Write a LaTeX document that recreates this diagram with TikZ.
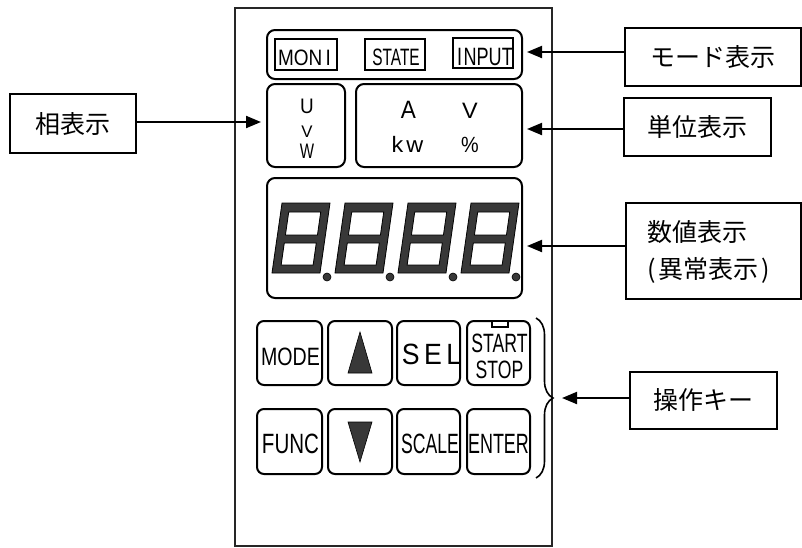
\documentclass[tikz,border=0pt]{standalone}
\usepackage{fontspec}
\setmainfont{Liberation Sans}
\newfontfamily\jp{Noto Sans CJK JP}
\usetikzlibrary{arrows.meta,decorations.pathreplacing}
\newcommand{\sxt}[3]{\scalebox{#1}[1]{\fontsize{#2}{#2}\selectfont #3}}
\newcommand{\capbox}[2]{\raisebox{0pt}[#1pt][0pt]{#2}}
\newcommand{\ctrline}[1]{\hbox to 64pt{\hss#1\hss}}
\begin{document}
\begin{tikzpicture}[x=1pt,y=-1pt,
  panel/.style={draw=black!85, line width=1.6pt},
  dispbox/.style={draw, line width=2pt, rounded corners=8pt, inner sep=0},
  keybox/.style={draw, line width=2pt, rounded corners=7pt, inner sep=0},
  tagbox/.style={draw, line width=1.4pt, inner sep=0},
  lbl/.style={draw, line width=1.6pt, inner sep=0, font=\jp\fontsize{25}{37}\selectfont},
  txt/.style={inner sep=0, outer sep=0, anchor=base},
  arr/.style={line width=2pt, -{Triangle[length=15pt,width=12pt]}},
  seg/.style={fill=black!78, draw=black, line width=0.8pt, even odd rule},
  darkfill/.style={fill=black!78, draw=black, line width=0.6pt},
]
\useasboundingbox (0,0) rectangle (802,547);
\fill[white] (0,0) rectangle (802,547);
% panel
\draw[panel] (235,8) rectangle (552,546);
% mode display
\node[dispbox, minimum width=255pt, minimum height=49pt] (modebox) at (394.5,54.5) {};
\node[tagbox, minimum width=62pt, minimum height=31pt] (moni) at (306,54.5) {};
\node[tagbox, minimum width=60pt, minimum height=31pt] (state) at (395,54.5) {};
\node[tagbox, minimum width=60pt, minimum height=30pt] (input) at (483,53) {};
\node[txt] (monit) at (304.5,65) {\sxt{0.85}{22.3}{MON\kern4pt I}};
\node[txt] (statet) at (396,65) {\sxt{0.65}{23.7}{STATE}};
\node[txt] (inputt) at (485,65) {\sxt{0.72}{25.1}{I\kern2pt NPUT}};
% phase and unit displays
\node[dispbox, minimum width=78pt, minimum height=83pt] (uvwbox) at (306,125.5) {};
\node[dispbox, minimum width=166pt, minimum height=83pt] (unitbox) at (439,125.5) {};
\node[txt] (uvwt) at (307,158) {\vbox{\offinterlineskip
  \ctrline{\capbox{15}{\sxt{0.9}{21}{U}}}\kern12pt
  \ctrline{\capbox{12}{\sxt{1.0}{16.8}{V}}}\kern6pt
  \ctrline{\capbox{15}{\sxt{0.72}{21}{W}}}}};
\node[txt] (at) at (408.5,118) {\sxt{0.9}{25.1}{A}};
\node[txt] (vvt) at (470,118) {\sxt{1.05}{22.3}{V}};
\node[txt] (kwt) at (407.5,152) {\sxt{1.05}{22.3}{k\kern3pt w}};
\node[txt] (pct) at (470,152) {\sxt{0.9}{22}{\%}};
% numeric display
\node[dispbox, minimum width=255pt, minimum height=120pt] (digbox) at (394.5,238) {};
\foreach \dx in {0,63,126,189} {
  \begin{scope}[shift={({272+\dx},273)}, xslant=0.143]
    \path[seg] (0,0) rectangle (48,-70) (8,-8) rectangle (40,-30) (8,-38) rectangle (40,-61);
  \end{scope}
  \path[darkfill] ({327+\dx},277) circle (4);
}
% keys
\node[keybox, minimum width=65pt, minimum height=64pt] (kmode) at (289.5,353) {};
\node[keybox, minimum width=64pt, minimum height=64pt] (kup) at (360,353) {};
\node[keybox, minimum width=63pt, minimum height=64pt] (ksel) at (428.5,353) {};
\node[keybox, minimum width=63pt, minimum height=64pt] (kstart) at (498.5,353) {};
\node[keybox, minimum width=65pt, minimum height=65pt] (kfunc) at (289.5,441.5) {};
\node[keybox, minimum width=64pt, minimum height=65pt] (kdown) at (360,441.5) {};
\node[keybox, minimum width=63pt, minimum height=65pt] (kscale) at (428.5,441.5) {};
\node[keybox, minimum width=63pt, minimum height=65pt] (kenter) at (498.5,441.5) {};
\node[txt] (tmodek) at (290.5,365) {\sxt{0.78}{25.1}{MODE}};
\node[txt] (tselk) at (431.5,364) {\sxt{0.91}{29.3}{S\kern5pt E\kern5pt L}};
\node[txt] (tstartk) at (499.5,378) {\vbox{\offinterlineskip
  \ctrline{\capbox{19}{\sxt{0.665}{26.5}{START}}}\kern8pt
  \ctrline{\capbox{18}{\sxt{0.70}{25.1}{STOP}}}}};
\node[txt] (tfunck) at (290.5,453) {\sxt{0.736}{27.9}{FUNC}};
\node[txt] (tscalek) at (430,453) {\sxt{0.63}{27.9}{SCALE}};
\node[txt] (tenterk) at (498.5,453) {\sxt{0.643}{27.9}{ENTER}};
\draw[line width=1.5pt, fill=white] (492,321) rectangle (508,327);
\path[darkfill] (360,332) -- (348,373) -- (372,373) -- cycle;
\path[darkfill] (348,422) -- (372,422) -- (360,462) -- cycle;
% brace
\draw[line width=1.6pt, decorate, decoration={brace, amplitude=17pt}] (536,318) -- (536,478);
% labels
\node[lbl, minimum width=176pt, minimum height=58pt] (lmode) at (713,57) {モード表示};
\node[lbl, minimum width=147pt, minimum height=58pt] (lunit) at (697.5,127) {単位表示};
\node[lbl, minimum width=175pt, minimum height=96pt] (lnum) at (713.5,251) {};
\node[inner sep=0, anchor=west, align=left, font=\jp\fontsize{25}{37}\selectfont] (lnumt) at (647,252) {数値表示\\(\kern3pt 異常表示\kern3pt )};
\node[lbl, minimum width=147pt, minimum height=57pt] (lkey) at (703.5,400.5) {操作キー};
\node[lbl, minimum width=126pt, minimum height=59pt] (lphase) at (73,123.5) {相表示};
% arrows
\coordinate (tmode) at (527,52);
\coordinate (tunit) at (527,129);
\coordinate (tnum) at (527,246);
\coordinate (tkey) at (562,398);
\coordinate (tphase) at (261,122);
\draw[arr] (lmode.west |- tmode) -- (tmode);
\draw[arr] (lunit.west |- tunit) -- (tunit);
\draw[arr] (lnum.west |- tnum) -- (tnum);
\draw[arr] (lkey.west |- tkey) -- (tkey);
\draw[arr] (lphase.east |- tphase) -- (tphase);
\end{tikzpicture}
\end{document}
